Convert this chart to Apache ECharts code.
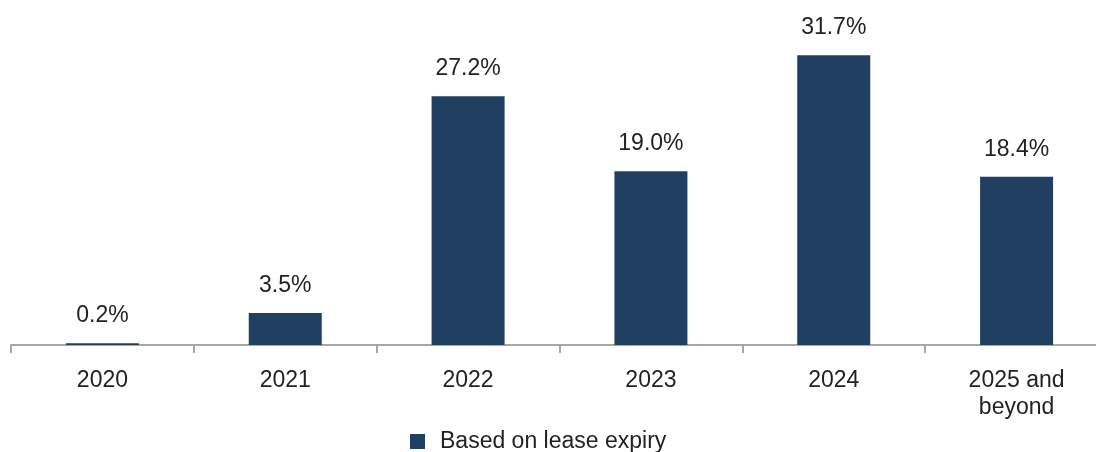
<!DOCTYPE html>
<html>
<head>
<meta charset="utf-8">
<script src="https://cdn.jsdelivr.net/npm/echarts@6/dist/echarts.min.js"></script>
<style>
  html, body { margin: 0; padding: 0; background: #fff; overflow: hidden; }
  /* the last category runs slightly past the visible right edge */
  #chart { width: 1108px; height: 452px; }
</style>
</head>
<body>
<div id="chart"></div>
<script>
// Lease expiry profile by year
const categories = ['2020', '2021', '2022', '2023', '2024', '2025 and\nbeyond'];
const expiryShare = [0.2, 3.5, 27.2, 19.0, 31.7, 18.4];
const seriesName = 'Based on lease expiry';

const chart = echarts.init(document.getElementById('chart'));
const font = '"Liberation Sans", Arial, Helvetica, sans-serif';

chart.setOption({
  animation: false,
  textStyle: { fontFamily: font },
  grid: { left: 11, right: 0, top: 25, bottom: 107, containLabel: false },
  legend: {
    data: [seriesName],
    top: 425,
    left: 405,
    itemWidth: 15,
    itemHeight: 15,
    icon: 'rect',
    textStyle: { fontSize: 23, color: '#222', fontFamily: font, padding: [0, 0, 0, 10] }
  },
  xAxis: {
    type: 'category',
    data: categories,
    axisLine: { lineStyle: { color: '#a6a6a6', width: 2 } },
    axisTick: { show: true, length: 8, lineStyle: { color: '#a6a6a6', width: 2 } },
    axisLabel: { fontSize: 23, color: '#222', margin: 22, lineHeight: 27, fontFamily: font, interval: 0 }
  },
  yAxis: {
    type: 'value',
    min: 0,
    max: 35,
    show: false,
    splitLine: { show: false }
  },
  series: [{
    name: seriesName,
    type: 'bar',
    data: expiryShare,
    barWidth: 73,
    itemStyle: { color: '#213f60' },
    label: {
      show: true,
      position: 'top',
      distance: 16,
      fontSize: 23,
      color: '#222',
      fontFamily: font,
      formatter: p => p.value.toFixed(1) + '%'
    }
  }]
});
</script>
</body>
</html>
